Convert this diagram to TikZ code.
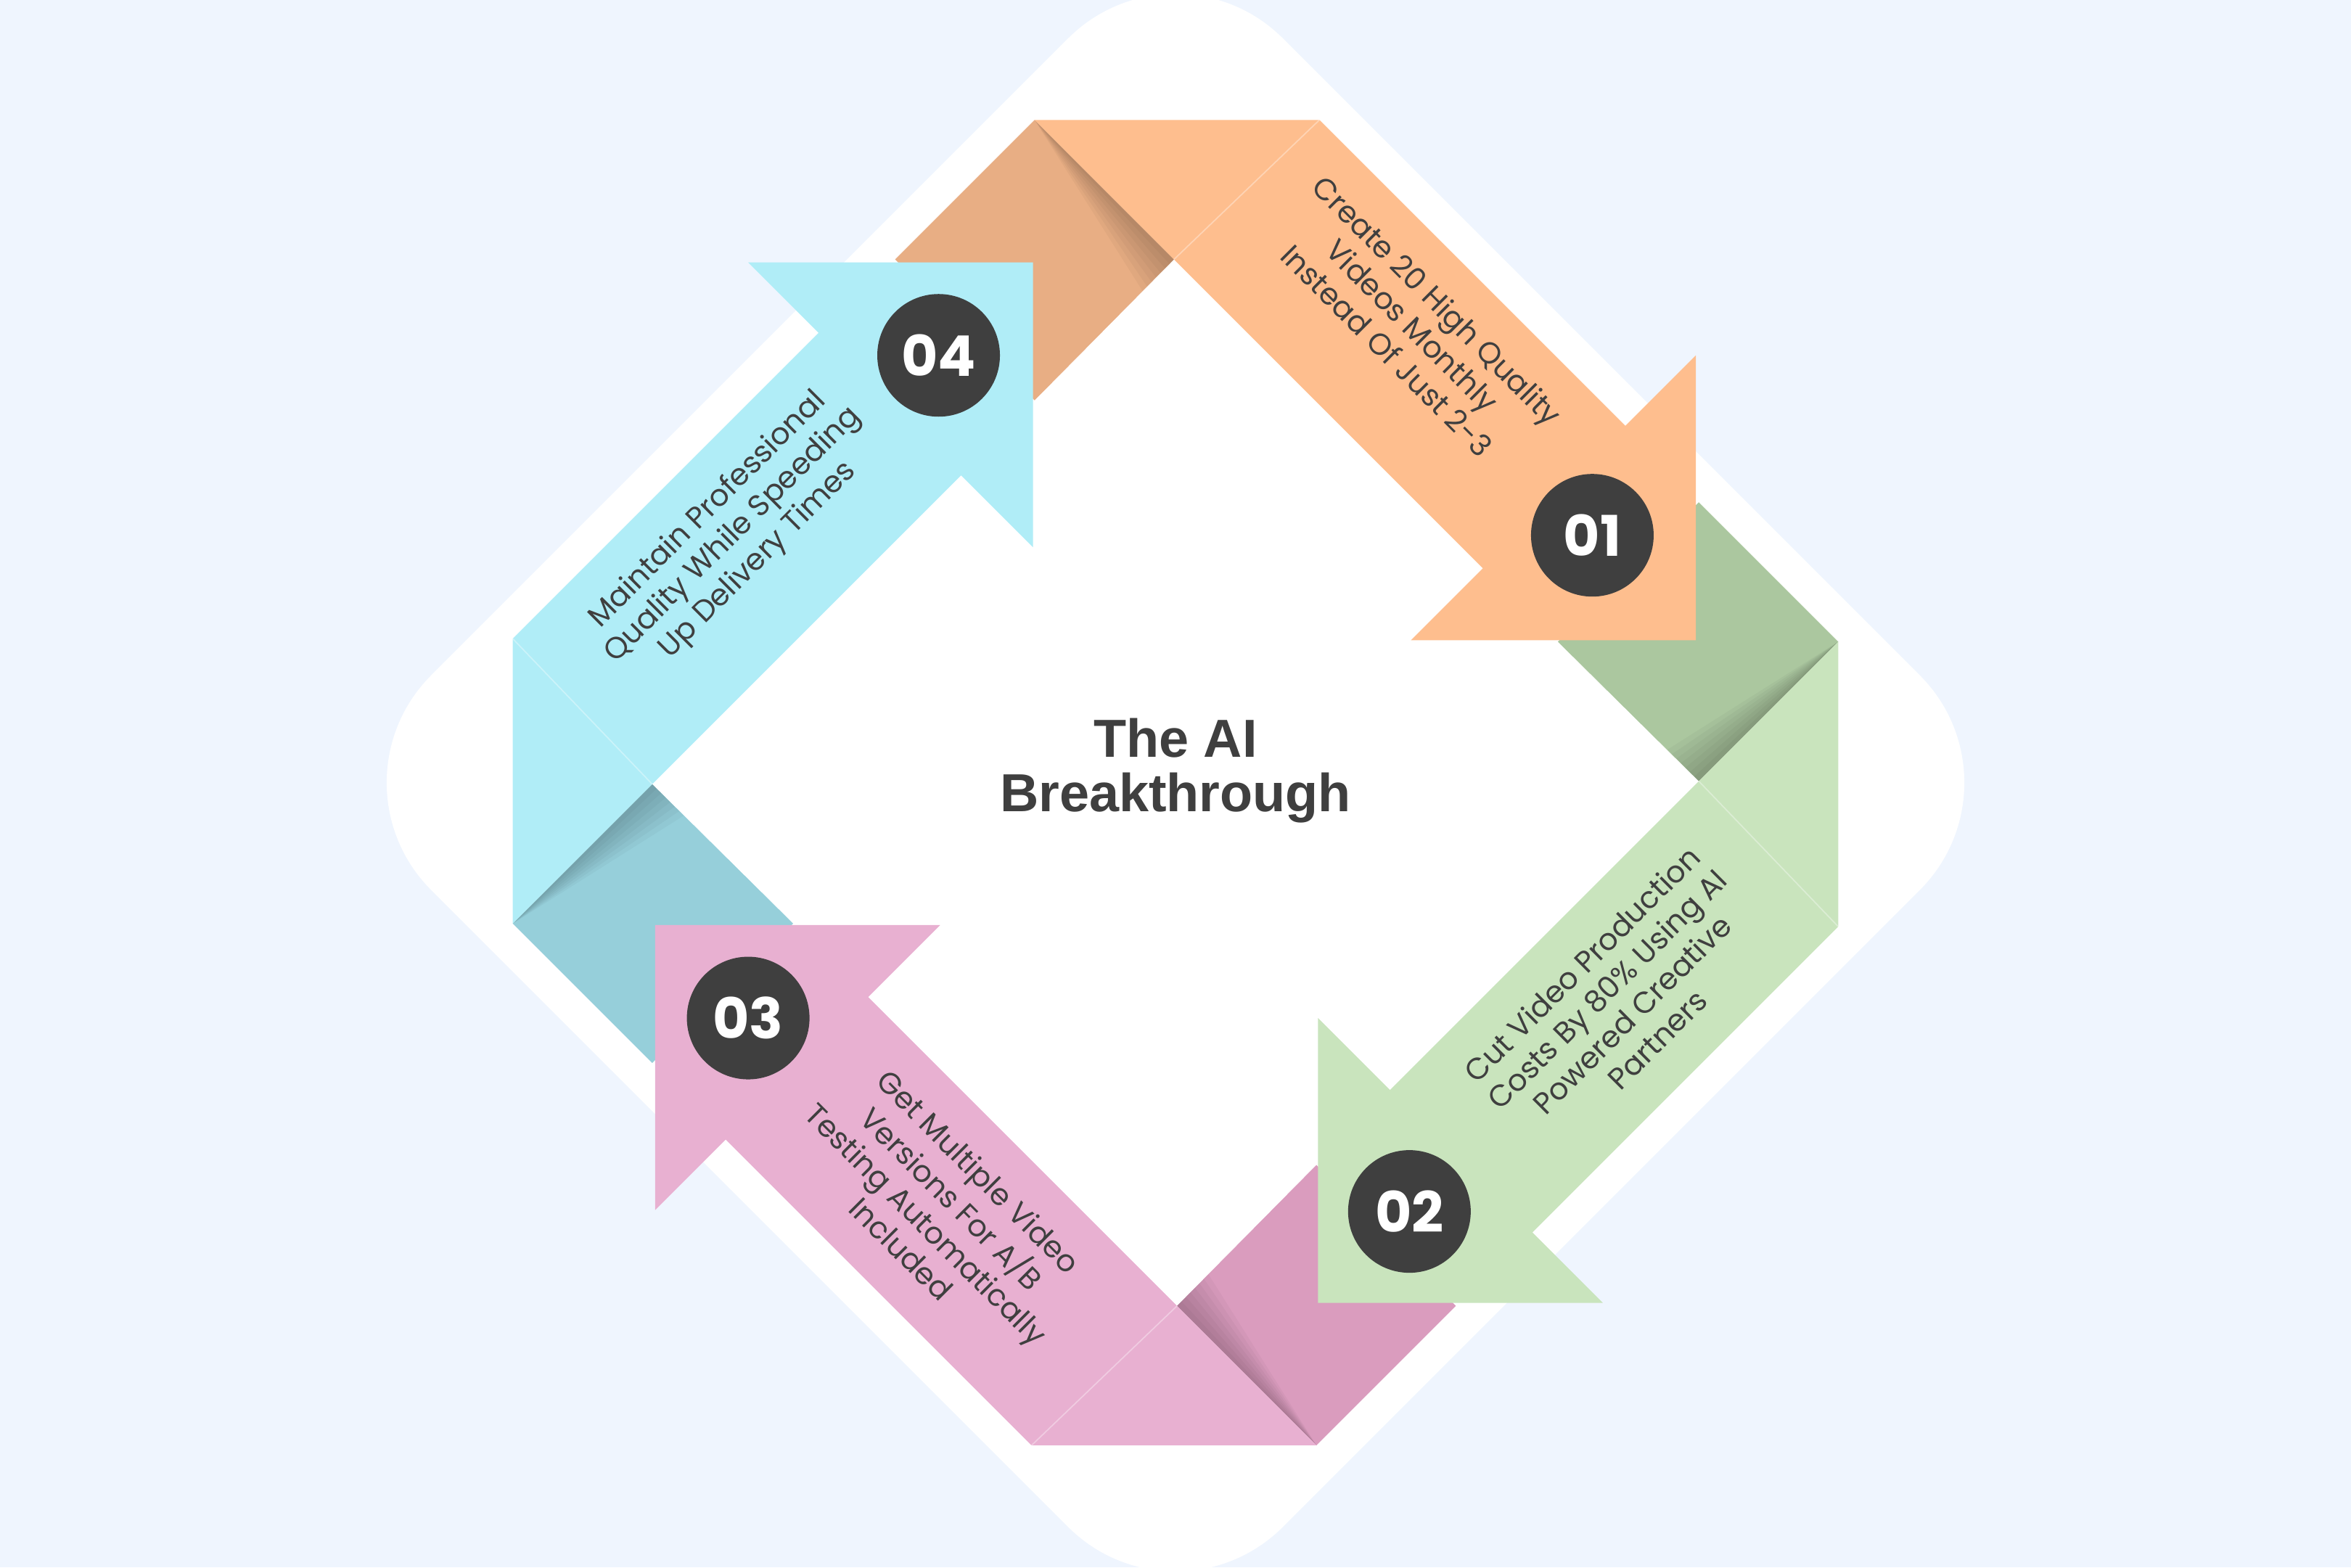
\documentclass[tikz,border=0pt]{standalone}
\usepackage{fontspec}
\newfontfamily\pop{Poppins}
\newfontfamily\lib{Liberation Sans}
\definecolor{bg}{HTML}{EFF5FE}
\definecolor{orangec}{HTML}{FEBE8E}
\definecolor{tanc}{HTML}{E8AE84}
\definecolor{greenc}{HTML}{C9E4BD}
\definecolor{dgreen}{HTML}{ABC79F}
\definecolor{pinkc}{HTML}{E8B0D1}
\definecolor{dpink}{HTML}{DA9CBE}
\definecolor{cyanc}{HTML}{B0EDF7}
\definecolor{teal}{HTML}{96CFDA}
\definecolor{numc}{HTML}{3F3F3F}
\definecolor{txt}{HTML}{3F3F3F}
\tikzset{
  num/.style={circle, fill=numc, text=white, inner sep=0pt, minimum size=1.69cm,
    font=\pop\bfseries\fontsize{22}{26}\selectfont},
  lab/.style={align=center, text=txt, inner sep=0pt,
    font=\pop\fontsize{11.8}{13.9}\selectfont},
  ttl/.style={align=center, text=txt, inner sep=0pt,
    font=\lib\bfseries\fontsize{21}{21.3}\selectfont},
  foldpc/.style={fill=#1},
  bandpc/.style={fill=#1}
}
\begin{document}
\begin{tikzpicture}[x=0.0206633cm, y=-0.0206633cm]
\useasboundingbox (0,0) rectangle (1568,1045.33);
\fill[bg] (0,0) rectangle (1568,1045.33);
\fill[white, rounded corners=2.09cm] (784,-46) -- (1352,522) -- (784,1090) -- (216,522) -- cycle;
% folded tails
\foreach \r/\fc in {0/tanc,-90/dgreen,180/dpink,90/teal}{
  \begin{scope}[shift={(784,522)}, rotate=\r]
    \fill[foldpc=\fc] (-94,-442) -- (-1,-349) -- (-94,-255) -- (-187,-349) -- cycle;
    \foreach \w in {3,6,...,21}
      \fill[black, fill opacity=0.03] (-94,-442) -- (-1,-349) -- (-1-\w,-349+\w) -- cycle;
  \end{scope}
}
% ribbons with heads
\foreach \r/\bc in {0/orangec,-90/greenc,180/pinkc,90/cyanc}{
  \begin{scope}[shift={(784,522)}, rotate=\r]
    \fill[bandpc=\bc] (-94,-442) -- (96,-442) -- (300,-238) -- (347,-285) -- (347,-95) -- (157,-95) -- (205,-143) -- cycle;
    \draw[white, opacity=0.35, line width=0.5pt] (96,-442) -- (-1,-349);
  \end{scope}
}
% numbers
\node[num] (n1) at (1062,357) {01};
\node[num] (n2) at (940,808) {02};
\node[num] (n3) at (499,679) {03};
\node[num] (n4) at (626,237) {04};
% labels
\node[lab, rotate=-45] (t1) at (942,217) {Create 20 High Quality\\Videos Monthly\\Instead Of Just 2-3};
\node[lab, rotate=45] (t2) at (1080,668) {Cut Video Production\\Costs By 80\% Using AI\\Powered Creative\\Partners};
\node[lab, rotate=-45] (t3) at (627,807) {Get Multiple Video\\Versions For A/B\\Testing Automatically\\Included};
\node[lab, rotate=45] (t4) at (489,357) {Maintain Professional\\Quality While Speeding\\Up Delivery Times};
\node[ttl] (tt) at (784,514) {The AI\\Breakthrough};
\end{tikzpicture}
\end{document}
